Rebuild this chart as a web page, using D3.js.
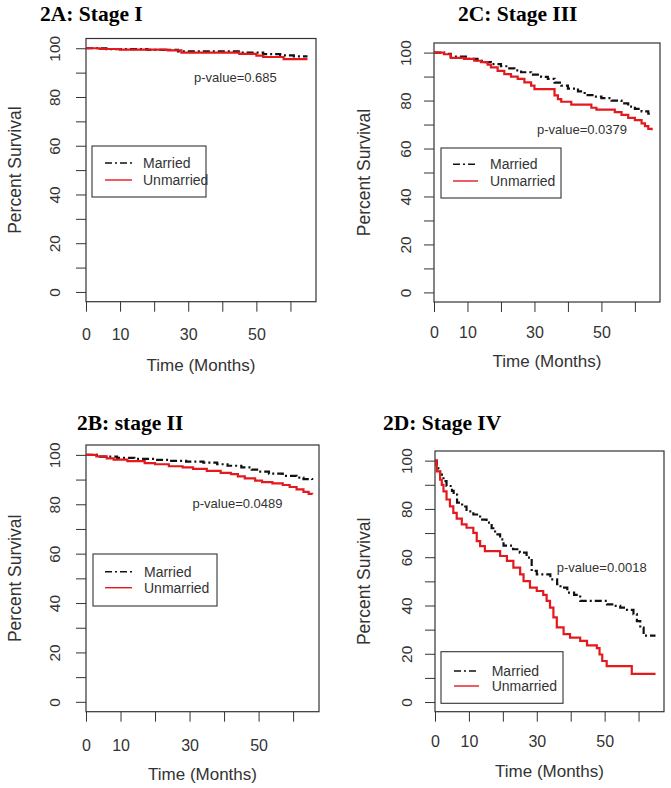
<!DOCTYPE html>
<html><head><meta charset="utf-8">
<script src="https://cdn.jsdelivr.net/npm/d3@7"></script>
<style>body{margin:0;background:#fff}svg{display:block}</style>
</head><body>
<svg id="chart" width="671" height="788"></svg>
<script>
// ---------- data ----------
const xTicks = [0, 10, 20, 30, 40, 50, 60];
const xTickLabels = [0, 10, 30, 50];
const yTicks = [0, 10, 20, 30, 40, 50, 60, 70, 80, 90, 100];
const yTickLabels = [0, 20, 40, 60, 80, 100];
const seriesNames = ["Married", "Unmarried"];
const panelTitles = ["2A: Stage I", "2C: Stage III", "2B: stage II", "2D: Stage IV"];
const pValues = ["p-value=0.685", "p-value=0.0379", "p-value=0.0489", "p-value=0.0018"];
const xTitle = "Time (Months)";
const yTitle = "Percent Survival";

// [month, percent survival] step points (Kaplan-Meier)
const stageIMarried = [[0,100],[6,99.6],[18,99.3],[27,98.7],[46,98.2],[52,97.6],[57,97.1],[61,96.7],[65,96.7]];
const stageIUnmarried = [[0,100],[4,99.7],[10,99.4],[24,99.1],[28,98.2],[45,97.7],[50,97.0],[52,96.4],[58,95.5],[65,95.5]];

const stageIIMarried = [[0,100],[4,99.3],[9,98.8],[14,98.4],[20,98.0],[24,97.6],[29,97.3],[34,96.9],[38,96.2],[41,95.6],[45,94.9],[48,94.0],[50,93.2],[53,92.4],[57,91.5],[61,90.8],[63,90.2],[65.5,89.8]];
const stageIIUnmarried = [[0,100],[3,99.4],[6,98.6],[8,98.1],[12,97.5],[17,96.7],[20,96.2],[24,95.4],[28,94.9],[31,94.3],[35,93.5],[39,92.7],[42,92.2],[44,91.3],[46,90.5],[49,89.6],[51,89.0],[54,88.5],[57,87.8],[59,87.0],[61,86.0],[63,85.0],[64.5,84.2],[65.5,84.0]];

const stageIIIMarried = [[0,100],[3,99.5],[5,98.3],[10,97.4],[13,96.6],[15,96.0],[17,95.2],[20,94.3],[22,93.4],[24,92.6],[26,91.8],[29,90.8],[32,89.9],[34,89.0],[36,87.5],[38,86.2],[40,85.0],[43,83.8],[45,82.3],[48,81.6],[50,81.0],[53,80.0],[56,78.8],[58,77.5],[60,76.5],[62,75.5],[64,74.5],[65,74.2]];
const stageIIIUnmarried = [[0,100],[3,99.3],[5,97.8],[9,97.4],[12,96.6],[14,96.0],[16,95.0],[17,93.8],[19,92.4],[21,91.0],[23,90.0],[25,89.0],[27,87.6],[29,86.2],[30,84.8],[36,82.2],[37,80.6],[38,79.5],[41,78.3],[47,77.0],[48.5,76.2],[54,75.2],[56,74.0],[58,72.8],[60,71.8],[62,70.5],[63,69.3],[64,68.2],[65,67.6]];

const stageIVMarried = [[0,100],[0.5,98],[1,96.5],[1.5,94.2],[2.5,91.5],[3.4,89.5],[5,87.5],[5.5,85.9],[6.5,82.6],[8,81],[9.3,79],[11.3,77.7],[13.3,75.6],[15.2,74.3],[16.7,72],[17.7,69.5],[19.2,67.4],[20.2,64.8],[23,63.3],[25,61.9],[27,59.8],[28.5,54.3],[30,52.9],[34,50.8],[36,48.8],[37,47.4],[39,45.3],[41,44.4],[42.8,41.9],[48.7,41.9],[50.7,40.5],[52.6,39.8],[54.6,39.1],[56.6,38.2],[58.5,36.4],[59.5,33.5],[60.5,30.8],[61.5,27.5],[65,27.5]];
const stageIVUnmarried = [[0,100],[0.5,95.6],[1.5,92.1],[2,90],[2.5,87.3],[3.4,83.9],[4.4,81.1],[5.4,78.4],[6.4,76],[7.9,73.6],[9.3,72.2],[11.3,70.1],[12.3,66.7],[13.3,64.6],[14.7,62.5],[19.2,60.5],[21.2,58.5],[23.1,55.7],[25.1,52.9],[26.1,50.1],[28,47.4],[30,46],[31.9,44.4],[32.9,41.9],[33.9,39.1],[34.9,35.1],[35.9,30.9],[37.9,28.1],[39.8,26.7],[42.8,25.3],[44.8,23.5],[47.7,22.3],[48.5,19.7],[49.3,17],[50.6,14.9],[58,11.7],[65,11.7]];

const panelSeries = [
  [stageIMarried, stageIUnmarried],
  [stageIIIMarried, stageIIIUnmarried],
  [stageIIMarried, stageIIUnmarried],
  [stageIVMarried, stageIVUnmarried]
];

// ---------- layout (positions / styles) ----------
const layouts = [
  {title:[40,21], box:[86,38.5,316,301.7], yLab:26, yTitleX:20.5, xLabOff:38, xTitleY:371,
   leg:{x:92,y:146,w:114,h:51,l1:105,l2:132,tx:143,r1:163,r2:180}, p:[194,82]},
  {title:[458,21], box:[434,43,660,302], yLab:23, yTitleX:370, xLabOff:36, xTitleY:367,
   leg:{x:441,y:148,w:120,h:50,l1:453,l2:478,tx:490,r1:164.3,r2:181}, p:[537,134]},
  {title:[77,430], box:[86,445,319,711.7], yLab:26, yTitleX:20.7, xLabOff:39, xTitleY:780,
   leg:{x:93,y:554,w:124,h:52,l1:105,l2:132,tx:144,r1:571.7,r2:587.7}, p:[192.5,508]},
  {title:[383,430], box:[435,451,664,711.7], yLab:23.5, yTitleX:370, xLabOff:35.5, xTitleY:777,
   leg:{x:441,y:651.7,w:122,h:51.6,l1:454,l2:479,tx:491.7,r1:671,r2:686}, p:[556.7,572]}
];
const colors = ["#111111", "#e3191e"];
const dashes = ["7,3,2,3", null];
const sans = "'Liberation Sans', Arial, sans-serif";
const serif = "'Liberation Serif', 'Times New Roman', serif";
const textCol = "#333";

const svg = d3.select("#chart");

layouts.forEach((L, i) => {
  const [x0, y0, x1, y1] = L.box;
  const x = d3.scaleLinear().domain([0, 67.5]).range([x0, x1]);
  const y = d3.scaleLinear().domain([-4, 104]).range([y1, y0]);
  const g = svg.append("g");

  // title
  g.append("text").attr("x", L.title[0]).attr("y", L.title[1])
    .attr("font-family", serif).attr("font-weight", "bold").attr("font-size", 21.5)
    .attr("fill", "#000").text(panelTitles[i]);

  // y axis
  const ya = g.append("g").attr("transform", `translate(${x0},0)`)
    .call(d3.axisLeft(y).tickValues(yTicks).tickSize(10).tickSizeOuter(0)
      .tickFormat(d => yTickLabels.includes(d) ? d : ""));
  ya.select(".domain").remove();
  ya.selectAll(".tick line").attr("stroke", textCol);
  ya.selectAll(".tick text").attr("x", 0).attr("y", -L.yLab).attr("dy", 0)
    .attr("transform", "rotate(-90)").attr("text-anchor", "middle")
    .attr("font-family", sans).attr("font-size", 15.5).attr("fill", textCol);

  // x axis
  const xa = g.append("g").attr("transform", `translate(0,${y1})`)
    .call(d3.axisBottom(x).tickValues(xTicks).tickSize(10).tickSizeOuter(0)
      .tickFormat(d => xTickLabels.includes(d) ? d : ""));
  xa.select(".domain").remove();
  xa.selectAll(".tick line").attr("stroke", textCol);
  xa.selectAll(".tick text").attr("y", L.xLabOff).attr("dy", 0)
    .attr("font-family", sans).attr("font-size", 16).attr("fill", textCol);

  // box
  g.append("rect").attr("x", x0).attr("y", y0).attr("width", x1 - x0).attr("height", y1 - y0)
    .attr("fill", "none").attr("stroke", textCol).attr("stroke-width", 1.2);

  // axis titles
  g.append("text").attr("x", (x0 + x1) / 2).attr("y", L.xTitleY).attr("text-anchor", "middle")
    .attr("font-family", sans).attr("font-size", 17).attr("fill", textCol).text(xTitle);
  g.append("text").attr("transform", `translate(${L.yTitleX},${(y0 + y1) / 2}) rotate(-90)`)
    .attr("text-anchor", "middle").attr("font-family", sans).attr("font-size", 17.5)
    .attr("fill", textCol).text(yTitle);

  // curves
  const line = d3.line().x(d => x(d[0])).y(d => y(d[1])).curve(d3.curveStepAfter);
  panelSeries[i].forEach((s, k) => {
    g.append("path").datum(s).attr("d", line).attr("fill", "none")
      .attr("stroke", colors[k]).attr("stroke-width", 2.2)
      .attr("stroke-dasharray", dashes[k]);
  });

  // p-value
  g.append("text").attr("x", L.p[0]).attr("y", L.p[1]).attr("font-family", sans)
    .attr("font-size", 13).attr("fill", textCol).text(pValues[i]);

  // legend
  const lg = L.leg;
  g.append("rect").attr("x", lg.x).attr("y", lg.y).attr("width", lg.w).attr("height", lg.h)
    .attr("fill", "#fff").attr("stroke", textCol).attr("stroke-width", 1.1);
  [lg.r1, lg.r2].forEach((ry, k) => {
    g.append("line").attr("x1", lg.l1).attr("x2", lg.l2).attr("y1", ry).attr("y2", ry)
      .attr("stroke", colors[k]).attr("stroke-width", 1.4).attr("stroke-dasharray", dashes[k]);
    g.append("text").attr("x", lg.tx).attr("y", ry + 5).attr("font-family", sans)
      .attr("font-size", 14).attr("fill", textCol).text(seriesNames[k]);
  });
});
</script>
</body></html>
